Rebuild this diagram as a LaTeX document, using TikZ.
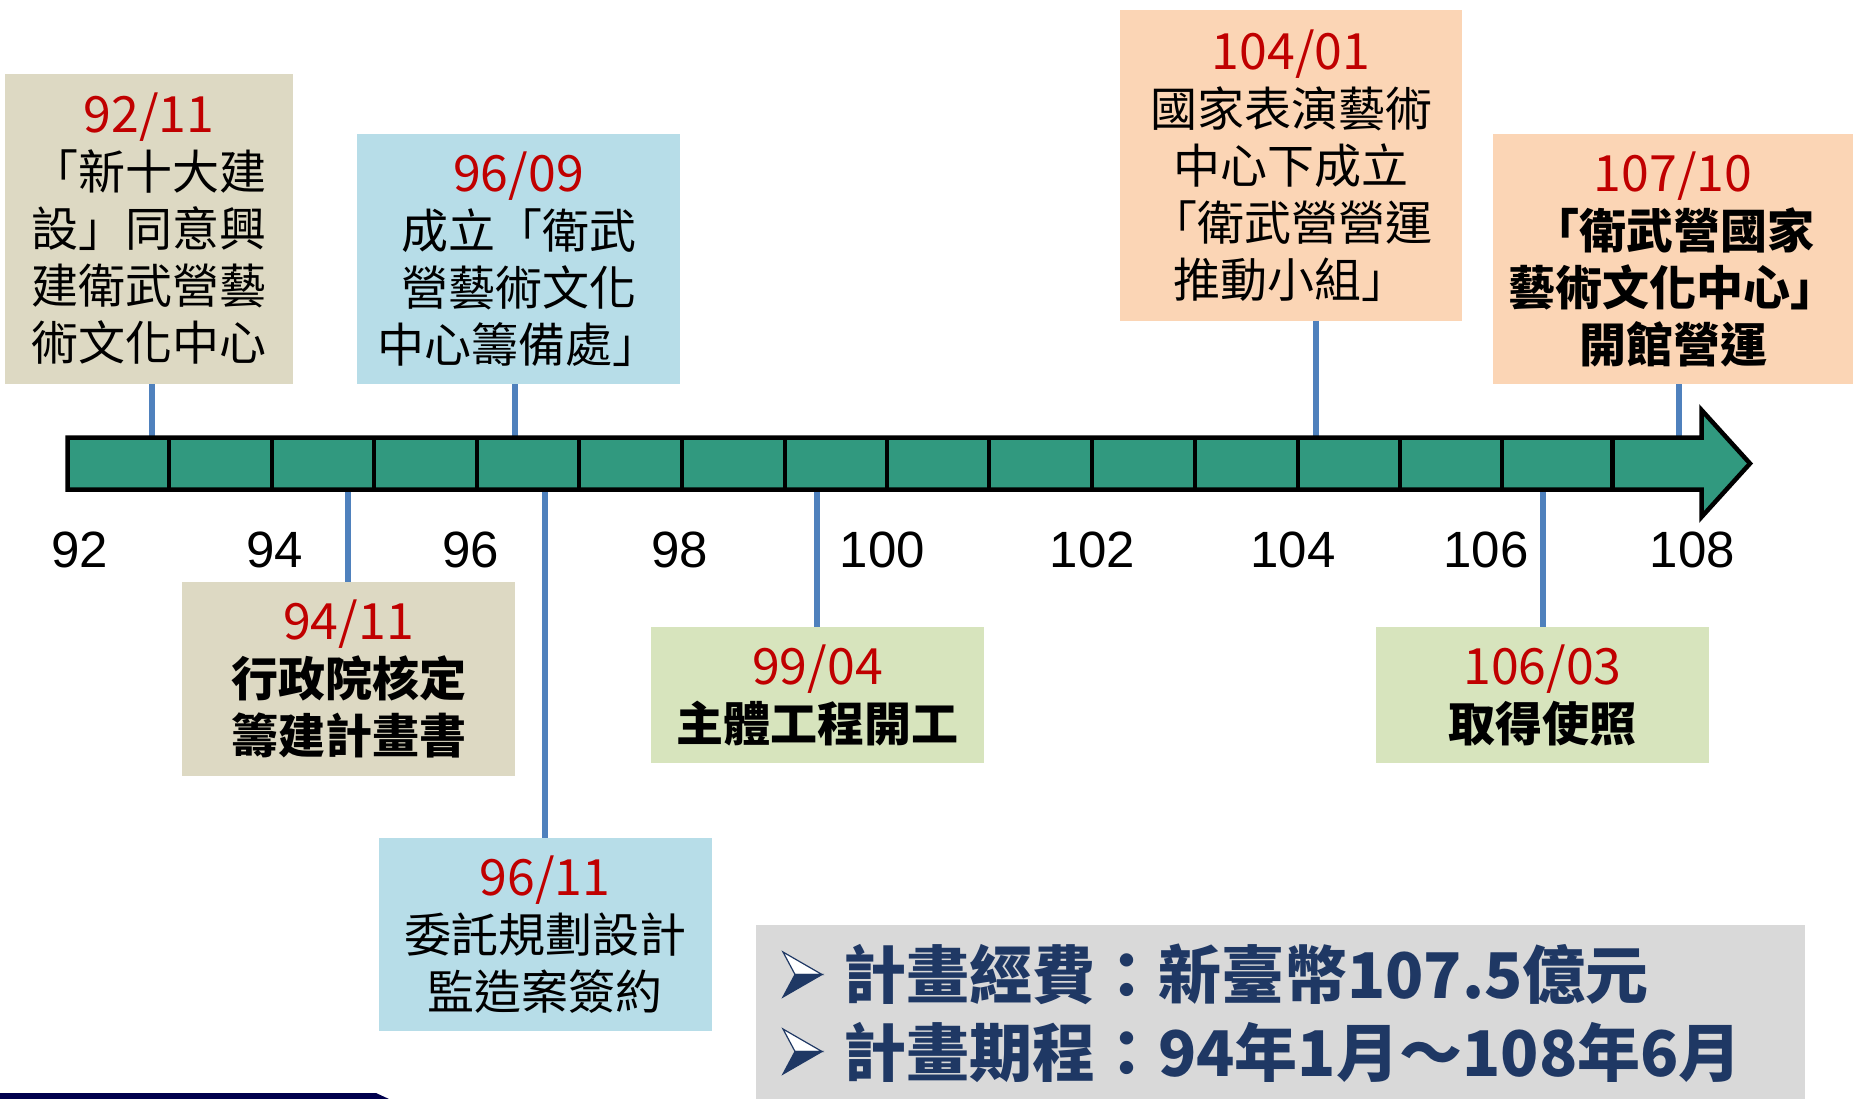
\documentclass[tikz,border=0pt]{standalone}
\usepackage{fontspec}
\setmainfont{Liberation Sans}
\newfontfamily\cjk{Noto Sans CJK TC}
\definecolor{beigebox}{HTML}{DDD9C3}
\definecolor{bluebox}{HTML}{B7DDE8}
\definecolor{peachbox}{HTML}{FBD5B5}
\definecolor{greenbox}{HTML}{D7E4BD}
\definecolor{graybox}{HTML}{D9D9D9}
\definecolor{datered}{HTML}{C00000}
\definecolor{connblue}{HTML}{4F81BD}
\definecolor{bargreen}{HTML}{31997F}
\definecolor{navytext}{HTML}{1F3864}
\definecolor{stripnavy}{HTML}{00004D}
\newcommand\datelbl[1]{{\mdseries\color{datered}\fontsize{50}{57}\selectfont #1}}
\tikzset{
  evbox/.style={inner sep=0pt, outer sep=0pt, align=center, text=black,
    font=\cjk\fontsize{47}{57}\selectfont},
  evboxb/.style={evbox, font=\cjk\bfseries\fontsize{47}{57}\selectfont},
  conn/.style={draw=connblue, line width=6pt},
  yearlbl/.style={font=\fontsize{51}{60}\selectfont, anchor=base, inner sep=0pt},
  barshape/.style={fill=bargreen, draw=black, line width=4.5pt, line join=miter},
  divider/.style={draw=black, line width=4.5pt},
  infotext/.style={font=\cjk\bfseries\fontsize{63}{78}\selectfont, text=navytext, anchor=base west, inner sep=0pt},
  bul/.pic={
    \filldraw[fill=white, draw=navytext, line width=1.2pt, line join=miter] (0,-22.5) -- (39,0) -- (12,0) -- cycle;
    \filldraw[fill=navytext, draw=navytext, line width=1.2pt, line join=miter] (12,0) -- (39,0) -- (0,22.5) -- cycle;
  }
}
\begin{document}
\begin{tikzpicture}[x=1pt, y=-1pt]
\useasboundingbox (0,0) rectangle (1853,1099);

% event boxes
\node[evbox, fill=beigebox, minimum width=288, minimum height=310] (b9211) at (149,229)
  {\datelbl{92/11}\\「新十大建\\設」同意興\\建衛武營藝\\術文化中心};
\node[evbox, fill=bluebox, minimum width=323, minimum height=250] (b9609) at (518.5,259)
  {\datelbl{96/09}\\成立「衛武\\營藝術文化\\中心籌備處」};
\node[evbox, fill=peachbox, minimum width=342, minimum height=311] (b10401) at (1291,165.5)
  {\datelbl{104/01}\\國家表演藝術\\中心下成立\\「衛武營營運\\推動小組」};
\node[evboxb, fill=peachbox, minimum width=360, minimum height=250] (b10710) at (1673,259)
  {\datelbl{107/10}\\「衛武營國家\\藝術文化中心」\\開館營運};
\node[evboxb, fill=beigebox, minimum width=333, minimum height=194] (b9411) at (348.5,679)
  {\datelbl{94/11}\\行政院核定\\籌建計畫書};
\node[evboxb, fill=greenbox, minimum width=333, minimum height=136] (b9904) at (817.5,695)
  {\datelbl{99/04}\\主體工程開工};
\node[evboxb, fill=greenbox, minimum width=333, minimum height=136] (b10603) at (1542.5,695)
  {\datelbl{106/03}\\取得使照};
\node[evbox, fill=bluebox, minimum width=333, minimum height=193] (b9611) at (545,934.5)
  {\datelbl{96/11}\\委託規劃設計\\監造案簽約};

% anchor points on the bar
\coordinate (t9211) at (152,440);
\coordinate (t9609) at (515,440);
\coordinate (t10401) at (1316,440);
\coordinate (t10710) at (1679,440);
\coordinate (t9411) at (348,487);
\coordinate (t9611) at (545,487);
\coordinate (t9904) at (817,487);
\coordinate (t10603) at (1543,487);

% connectors
\draw[conn] (b9211.south -| t9211) -- (t9211);
\draw[conn] (b9609.south -| t9609) -- (t9609);
\draw[conn] (b10401.south -| t10401) -- (t10401);
\draw[conn] (b10710.south -| t10710) -- (t10710);
\draw[conn] (t9411) -- (b9411.north -| t9411);
\draw[conn] (t9611) -- (b9611.north -| t9611);
\draw[conn] (t9904) -- (b9904.north -| t9904);
\draw[conn] (t10603) -- (b10603.north -| t10603);

% timeline bar
\draw[barshape] (67.5,437.5) -- (1701.5,437.5) -- (1701.5,410) -- (1750,463.5)
  -- (1701.5,517) -- (1701.5,489.5) -- (67.5,489.5) -- cycle;
\foreach \xx in {169,272,374,477,579,682,785,887,989,1092,1195,1298,1400,1502,1612.5}
  \draw[divider] (\xx,437.5) -- (\xx,489.5);

% year labels
\node[yearlbl] (y92) at (80,567) {92};
\node[yearlbl] (y94) at (275,567) {94};
\node[yearlbl] (y96) at (470.5,567) {96};
\node[yearlbl] (y98) at (680,567) {98};
\node[yearlbl] (y100) at (882.5,567) {100};
\node[yearlbl] (y102) at (1092.5,567) {102};
\node[yearlbl] (y104) at (1293,567) {104};
\node[yearlbl] (y106) at (1486,567) {106};
\node[yearlbl] (y108) at (1692.5,567) {108};

% info box
\node[fill=graybox, inner sep=0pt, minimum width=1049, minimum height=174] (info) at (1280.5,1012) {};
\pic at (783,974.5) {bul};
\pic at (783,1051.5) {bul};
\node[infotext] (line1) at (843,998) {計畫經費：新臺幣107.5億元};
\node[infotext] (line2) at (843,1076) {計畫期程：94年1月～108年6月};

% bottom-left strip
\fill[stripnavy] (0,1093) -- (376,1093) -- (389,1099) -- (0,1099) -- cycle;
\end{tikzpicture}
\end{document}
